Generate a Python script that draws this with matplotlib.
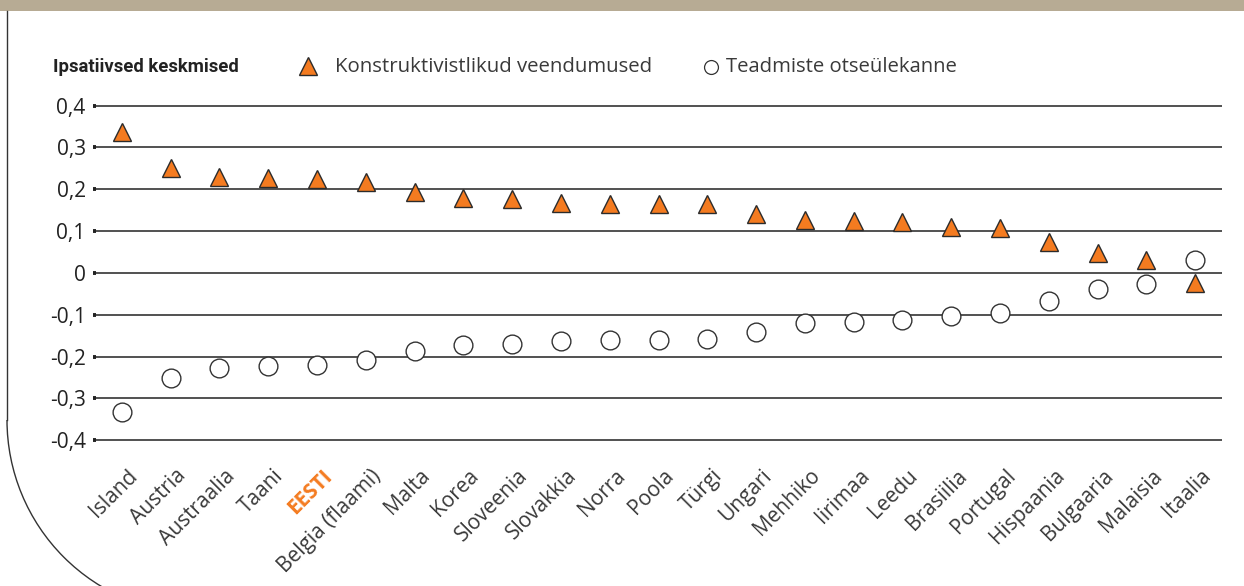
import matplotlib
matplotlib.use("Agg")
import matplotlib.pyplot as plt
import matplotlib.transforms as mtransforms
from matplotlib.patches import Rectangle, Arc

plt.rcParams['font.family'] = ['Open Sans', 'DejaVu Sans']

countries = ["Island", "Austria", "Austraalia", "Taani", "EESTI", "Belgia (flaami)",
             "Malta", "Korea", "Sloveenia", "Slovakkia", "Norra", "Poola", "Türgi",
             "Ungari", "Mehhiko", "Iirimaa", "Leedu", "Brasiilia", "Portugal",
             "Hispaania", "Bulgaaria", "Malaisia", "Itaalia"]
constructivist = [0.338, 0.250, 0.230, 0.226, 0.224, 0.217, 0.193, 0.178, 0.177, 0.168,
                  0.165, 0.165, 0.165, 0.142, 0.127, 0.124, 0.122, 0.109, 0.107, 0.075,
                  0.047, 0.031, -0.024]
transmission = [-0.332, -0.251, -0.228, -0.223, -0.221, -0.209, -0.186, -0.173, -0.169,
                -0.163, -0.160, -0.160, -0.158, -0.142, -0.119, -0.117, -0.112, -0.103,
                -0.096, -0.066, -0.038, -0.026, 0.030]
y_ticks = [0.4, 0.3, 0.2, 0.1, 0.0, -0.1, -0.2, -0.3, -0.4]
y_tick_labels = ["0,4", "0,3", "0,2", "0,1", "0", "-0,1", "-0,2", "-0,3", "-0,4"]
highlight = "EESTI"

orange = "#F47B20"
dark = "#2b2b2b"

fig = plt.figure(figsize=(12.44, 5.86), dpi=100)

# background frame (pixel coordinates)
bg = fig.add_axes([0, 0, 1, 1], zorder=0)
bg.set_xlim(0, 1244)
bg.set_ylim(586, 0)
bg.axis("off")
bg.add_patch(Rectangle((0, 0), 1244, 11, color="#B7AB94", lw=0))
bg.plot([7, 7], [11, 420], color="#333333", lw=1.0)
bg.add_patch(Arc((201, 420), 388, 388, theta1=90, theta2=180, color="#333333", lw=1.0))

# header and legend
bg.text(53, 67, "Ipsatiivsed keskmised", ha="left", va="center", fontsize=13.3,
        fontweight="bold", color="#222222",
        family=["Noto Sans Condensed", "Roboto", "DejaVu Sans"])
bg.plot([308], [66], marker="^", ms=13.5, mfc=orange, mec=dark, mew=1.0, ls="none")
bg.text(335, 67, "Konstruktivistlikud veendumused", ha="left", va="center",
        fontsize=14.7, color="#3a3a3a")
bg.plot([711], [67], marker="o", ms=10, mfc="white", mec="#333333", mew=0.9, ls="none")
bg.text(726, 67, "Teadmiste otseülekanne", ha="left", va="center",
        fontsize=14.6, color="#3a3a3a")

# main chart
ax = fig.add_axes([96 / 1244, 0.2343, 1126 / 1244, 0.5998], zorder=1)
ax.patch.set_alpha(0)
x = list(range(len(countries)))
ax.set_xlim(-0.53, 22.55)
ax.set_ylim(-0.42, 0.42)

for yv in y_ticks:
    ax.axhline(yv, color="#333333", lw=1.2, zorder=1)

ax.plot(x, transmission, ls="none", marker="o", ms=13.5, mfc="white", mec="#333333",
        mew=1.0, zorder=3)
ax.plot(x, constructivist, ls="none", marker="^", ms=13.5, mfc=orange, mec=dark,
        mew=1.0, zorder=4)

for s in ax.spines.values():
    s.set_visible(False)

ax.set_yticks(y_ticks, y_tick_labels)
ax.tick_params(axis="y", length=2.4, width=2.8, color="#222222", pad=5,
               labelsize=15, labelcolor="#222222")

ax.set_xticks(x, countries)
ax.tick_params(axis="x", length=0, pad=12, labelsize=15, labelcolor="#3a3a3a")
offset = mtransforms.ScaledTranslation(5 / 100, 0, fig.dpi_scale_trans)
for lbl in ax.get_xticklabels():
    lbl.set_rotation(45)
    lbl.set_ha("right")
    lbl.set_va("top")
    lbl.set_rotation_mode("anchor")
    lbl.set_transform(lbl.get_transform() + offset)
    if lbl.get_text() == highlight:
        lbl.set_color(orange)
        lbl.set_fontweight("bold")

fig.savefig("out.png", dpi=100)
